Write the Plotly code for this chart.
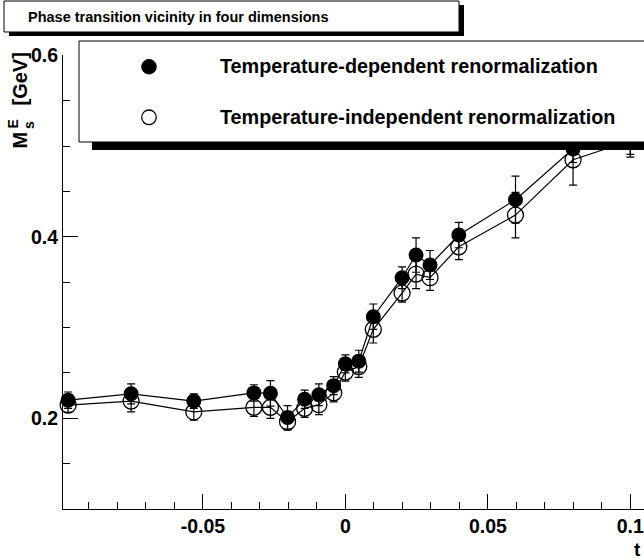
import plotly.graph_objects as go

# ---- data ----
t = [-0.0973, -0.0752, -0.0532, -0.0321, -0.0263, -0.0203, -0.0143, -0.0093, -0.0041,
     0.0, 0.0047, 0.0098, 0.0199, 0.0248, 0.0297, 0.0398, 0.0597, 0.0799, 0.1]
m_dep = [0.220, 0.227, 0.219, 0.228, 0.2275, 0.201, 0.221, 0.226, 0.236,
         0.260, 0.263, 0.312, 0.355, 0.380, 0.369, 0.402, 0.441, 0.497, 0.515]
m_dep_err = [0.009, 0.011, 0.008, 0.009, 0.014, 0.013, 0.010, 0.012, 0.010,
             0.010, 0.012, 0.014, 0.012, 0.019, 0.016, 0.014, 0.026, 0.015, 0.024]
m_ind = [0.2146, 0.219, 0.207, 0.212, 0.212, 0.196, 0.211, 0.215, 0.228,
         0.251, 0.257, 0.298, 0.338, 0.359, 0.355, 0.389, 0.424, 0.485, 0.506]
m_ind_err = [0.008, 0.012, 0.009, 0.010, 0.012, 0.009, 0.010, 0.011, 0.010,
             0.010, 0.012, 0.015, 0.010, 0.016, 0.014, 0.014, 0.025, 0.028, 0.018]

x_tickvals = [-0.05, 0, 0.05, 0.1]
x_ticktext = ["-0.05", "0", "0.05", "0.1"]
y_tickvals = [0.2, 0.4, 0.6]
y_ticktext = ["0.2", "0.4", "0.6"]

title_text = "Phase transition vicinity in four dimensions"
leg_dep = "Temperature-dependent renormalization"
leg_ind = "Temperature-independent renormalization"

# ---- layout geometry (pixels) ----
W, H = 644, 559
L, R, T, B = 63, 0, 55, 50
pw, ph = W - L - R, H - T - B


def px(x):
    return (x - L) / pw


def py(y):
    return (H - B - y) / ph


FONT = "Liberation Sans, Arial, Helvetica, sans-serif"

fig = go.Figure()

fig.add_trace(go.Scatter(
    x=t, y=m_ind, mode="lines+markers",
    line=dict(color="black", width=1.2),
    marker=dict(symbol="circle-open", size=16, color="black", line=dict(width=1.3)),
    error_y=dict(type="data", array=m_ind_err, visible=True, color="black",
                 thickness=1.2, width=4),
    showlegend=False, cliponaxis=False,
))
fig.add_trace(go.Scatter(
    x=t, y=m_dep, mode="lines+markers",
    line=dict(color="black", width=1.2),
    marker=dict(symbol="circle", size=15, color="black"),
    error_y=dict(type="data", array=m_dep_err, visible=True, color="black",
                 thickness=1.2, width=4),
    showlegend=False, cliponaxis=False,
))

axis_common = dict(
    showline=True, linecolor="black", linewidth=1, mirror=False,
    ticks="inside", ticklen=15, tickwidth=1, tickcolor="black",
    showgrid=False, zeroline=False, ticklabeloverflow="allow",
    tickfont=dict(family=FONT, size=19.5, color="black", weight="bold"),
)

fig.update_layout(
    width=W, height=H,
    margin=dict(l=L, r=R, t=T, b=B, pad=0),
    paper_bgcolor="white", plot_bgcolor="white",
    xaxis=dict(range=[-0.0991, 0.1048], tickmode="array", tickvals=x_tickvals,
               ticktext=x_ticktext,
               minor=dict(ticks="inside", ticklen=7, tickwidth=1, tickcolor="black",
                          tickmode="linear", tick0=0, dtick=0.01),
               **axis_common),
    yaxis=dict(range=[0.1, 0.6005], tickmode="array", tickvals=y_tickvals,
               ticktext=y_ticktext,
               minor=dict(ticks="inside", ticklen=7, tickwidth=1, tickcolor="black",
                          tickmode="linear", tick0=0, dtick=0.05),
               **axis_common),
)

shapes = []
# title box shadow + box
shapes.append(dict(type="rect", xref="paper", yref="paper",
                   x0=px(9), x1=px(464), y0=py(36), y1=py(5),
                   fillcolor="black", line=dict(width=0), layer="above"))
shapes.append(dict(type="rect", xref="paper", yref="paper",
                   x0=px(4), x1=px(459), y0=py(32), y1=py(1),
                   fillcolor="white", line=dict(color="black", width=1), layer="above"))
# legend box shadow + box
shapes.append(dict(type="rect", xref="paper", yref="paper",
                   x0=px(92), x1=px(660), y0=py(150), y1=py(60),
                   fillcolor="black", line=dict(width=0), layer="above"))
shapes.append(dict(type="rect", xref="paper", yref="paper",
                   x0=px(79), x1=px(652), y0=py(142), y1=py(41),
                   fillcolor="white", line=dict(color="black", width=1), layer="above"))
# legend symbols
r = 7.3
shapes.append(dict(type="circle", xref="paper", yref="paper",
                   x0=px(149 - r), x1=px(149 + r), y0=py(66.7 + r), y1=py(66.7 - r),
                   fillcolor="black", line=dict(color="black", width=1), layer="above"))
shapes.append(dict(type="circle", xref="paper", yref="paper",
                   x0=px(149 - r), x1=px(149 + r), y0=py(117.3 + r), y1=py(117.3 - r),
                   fillcolor="white", line=dict(color="black", width=1.3), layer="above"))
fig.update_layout(shapes=shapes)

ann = []
ann.append(dict(xref="paper", yref="paper", x=px(26), y=py(17), text=title_text,
                showarrow=False, xanchor="left", yanchor="middle",
                font=dict(family=FONT, size=14.5, color="black", weight="bold")))
ann.append(dict(xref="paper", yref="paper", x=px(218), y=py(66), text=leg_dep,
                showarrow=False, xanchor="left", yanchor="middle",
                font=dict(family=FONT, size=19.8, color="black", weight="bold")))
ann.append(dict(xref="paper", yref="paper", x=px(218), y=py(117), text=leg_ind,
                showarrow=False, xanchor="left", yanchor="middle",
                font=dict(family=FONT, size=19.8, color="black", weight="bold")))
# x axis title
ann.append(dict(xref="paper", yref="paper", x=px(643), y=py(549), text="t",
                showarrow=False, xanchor="right", yanchor="middle",
                font=dict(family=FONT, size=19, color="black", weight="bold")))
# y axis title pieces (rotated)
yfont = dict(family=FONT, size=20, color="black", weight="bold")
ann.append(dict(xref="paper", yref="paper", x=px(19), y=py(151), text="M",
                showarrow=False, textangle=-90, xanchor="center", yanchor="bottom",
                font=yfont))
ann.append(dict(xref="paper", yref="paper", x=px(12), y=py(131), text="E",
                showarrow=False, textangle=-90, xanchor="center", yanchor="bottom",
                font=dict(family=FONT, size=14, color="black", weight="bold")))
ann.append(dict(xref="paper", yref="paper", x=px(29), y=py(131), text="s",
                showarrow=False, textangle=-90, xanchor="center", yanchor="bottom",
                font=dict(family=FONT, size=14, color="black", weight="bold")))
ann.append(dict(xref="paper", yref="paper", x=px(19), y=py(108), text="[GeV]",
                showarrow=False, textangle=-90, xanchor="center", yanchor="bottom",
                font=yfont))
fig.update_layout(annotations=ann)

fig.write_html("out.html", config={"displayModeBar": False},
               post_script="document.body.style.margin='0px';document.body.style.padding='0px';")
